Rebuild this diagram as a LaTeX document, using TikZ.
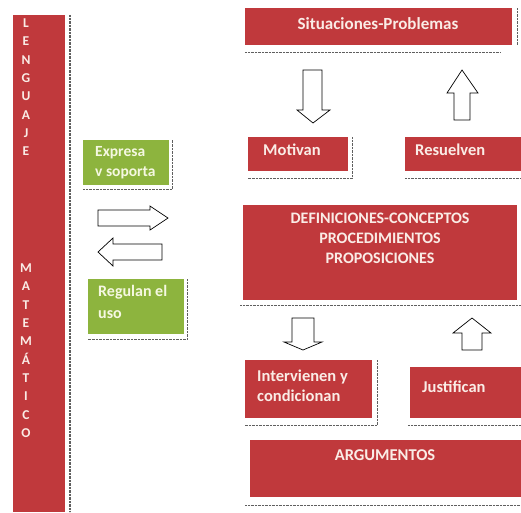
\documentclass[tikz,border=0pt]{standalone}
\usepackage{fontspec}
\setmainfont{Carlito}
\definecolor{boxred}{RGB}{192,57,60}
\definecolor{boxgreen}{RGB}{141,180,62}
\definecolor{txtlight}{RGB}{250,236,230}
\definecolor{greentxt}{RGB}{245,248,225}
\definecolor{shad}{RGB}{95,95,95}
\begin{document}
\begin{tikzpicture}[x=1pt,y=-1pt,
  redbox/.style={fill=boxred, draw=none, inner sep=0pt, anchor=north west},
  greenbox/.style={fill=boxgreen, draw=none, inner sep=0pt, anchor=north west},
  boxtext/.style={text=txtlight, font=\bfseries\fontsize{16.5}{20}\selectfont, inner sep=0pt},
  gtext/.style={text=greentxt, font=\bfseries\fontsize{15.5}{20}\selectfont, inner sep=0pt, anchor=north west, align=left},
  bartext/.style={text=txtlight, font=\bfseries\fontsize{13.5}{16}\selectfont, inner sep=0pt, anchor=mid},
  shadowline/.style={draw=shad, line width=1.8pt, dash pattern=on 0.9pt off 0.5pt},
  blockarrow/.style={draw=black, fill=white, line width=0.7pt, line join=miter}]
\fill[white] (0,0) rectangle (521,512);
\useasboundingbox (0,0) rectangle (521,512);

% boxes
\node[redbox, minimum width=52pt, minimum height=497pt] (bar) at (13,15) {};
\node[redbox, minimum width=267pt, minimum height=37pt] (sit) at (245,8) {};
\node[redbox, minimum width=100pt, minimum height=34pt] (mot) at (248,137) {};
\node[redbox, minimum width=116pt, minimum height=34pt] (res) at (405,137) {};
\node[greenbox, minimum width=86pt, minimum height=45pt] (expr) at (83,140) {};
\node[redbox, minimum width=274pt, minimum height=95pt] (def) at (243,205) {};
\node[greenbox, minimum width=96pt, minimum height=55pt] (reg) at (88,279) {};
\node[redbox, minimum width=127pt, minimum height=58pt] (int) at (245,360) {};
\node[redbox, minimum width=111pt, minimum height=51pt] (jus) at (410,367) {};
\node[redbox, minimum width=271pt, minimum height=57pt] (arg) at (250,440) {};

% dotted shadows
\draw[shadowline] (70,15) -- (70,512);
\draw[shadowline] ([yshift=-7pt]sit.south west) -- ([yshift=-7pt,xshift=-12pt]sit.south east);
\draw[shadowline] ([xshift=5pt]sit.north east) -- ([xshift=5pt]sit.south east);
\draw[shadowline] ([xshift=4pt]mot.north east) -- ([xshift=4pt,yshift=-7pt]mot.south east) -- ([yshift=-7pt]mot.south west);
\draw[shadowline] ([yshift=-7pt]res.south west) -- ([yshift=-7pt]res.south east);
\draw[shadowline] ([yshift=-4pt]expr.south west) -- ([yshift=-4pt,xshift=3pt]expr.south east) -- ([xshift=3pt]expr.north east);
\draw[shadowline] ([xshift=3pt]reg.north east) -- ([xshift=3pt,yshift=-5pt]reg.south east) -- ([yshift=-5pt]reg.south west);
\draw[shadowline] ([yshift=-5pt,xshift=-3pt]def.south west) -- ([yshift=-5pt,xshift=4pt]def.south east);
\draw[shadowline] ([xshift=5pt]int.north east) -- ([xshift=5pt,yshift=-7pt]int.south east) -- ([yshift=-7pt]int.south west);
\draw[shadowline] ([yshift=-7pt,xshift=-2pt]jus.south west) -- ([yshift=-7pt]jus.south east);
\draw[shadowline] ([yshift=-8pt,xshift=-5pt]arg.south west) -- ([yshift=-8pt]arg.south east);

% texts
\node[boxtext, font=\bfseries\fontsize{17}{20}\selectfont, anchor=mid] (tsit) at (378,27) {Situaciones-Problemas};
\node[boxtext, anchor=mid west] (tmot) at (263,153) {Motivan};
\node[boxtext, anchor=mid west] (tres) at (415,153) {Resuelven};
\node[boxtext, anchor=north, align=center, font=\bfseries\fontsize{16}{20}\selectfont] (tdef) at (380,213) {DEFINICIONES-CONCEPTOS\\PROCEDIMIENTOS\\PROPOSICIONES};
\node[boxtext, anchor=north west, align=left] (tint) at (257,370) {Intervienen y\\condicionan};
\node[boxtext, anchor=mid west] (tjus) at (422,390) {Justifican};
\node[boxtext, anchor=mid, font=\bfseries\fontsize{16.5}{20}\selectfont] (targ) at (385,458) {ARGUMENTOS};
\node[gtext] (texpr) at (95,146) {Expresa\\v soporta};
\node[gtext, font=\bfseries\fontsize{16}{22}\selectfont] (treg) at (98,285) {Regulan el\\uso};

% bar letters
\foreach \l/\y [count=\i] in {L/25,E/43,N/62,G/80,U/98,A/117,J/135,E/153,M/270,A/288,T/307,E/325,M/343,Á/362,T/380,I/398,C/417,O/435}
  \node[bartext] (bl\i) at (26,\y) {\l};

% block arrows
\draw[blockarrow] (303,70) -- (322,70) -- (322,110) -- (330,110) -- (313,123) -- (297,110) -- (303,110) -- cycle;
\draw[blockarrow] (462,70) -- (478,93) -- (470,93) -- (470,120) -- (454,120) -- (454,93) -- (447,93) -- cycle;
\draw[blockarrow] (292,318) -- (314,318) -- (314,342) -- (322,342) -- (303,350) -- (284,342) -- (292,342) -- cycle;
\draw[blockarrow] (472,318) -- (491,333) -- (482,333) -- (482,350) -- (462,350) -- (462,333) -- (453,333) -- cycle;
\draw[blockarrow] (98,210) -- (150,210) -- (150,206) -- (168,218) -- (150,230) -- (150,226) -- (98,226) -- cycle;
\draw[blockarrow] (98,252) -- (113,238) -- (113,244) -- (162,244) -- (162,260) -- (113,260) -- (113,266) -- cycle;
\end{tikzpicture}
\end{document}
